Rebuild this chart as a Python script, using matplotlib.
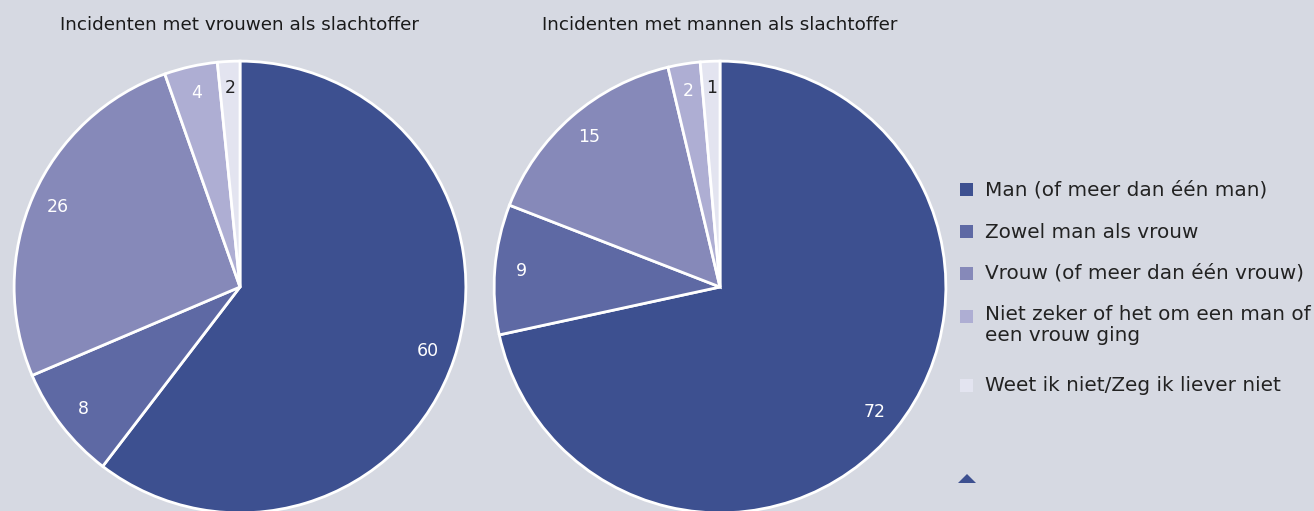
import matplotlib
matplotlib.use("Agg")
import matplotlib.pyplot as plt
from matplotlib.patches import Rectangle, Polygon

# data (shares; labels are the rounded values)
categories = ["Man (of meer dan één man)",
              "Zowel man als vrouw",
              "Vrouw (of meer dan één vrouw)",
              "Niet zeker of het om een man of\neen vrouw ging",
              "Weet ik niet/Zeg ik liever niet"]
vrouwen = [60.4, 8.2, 26.0, 3.8, 1.6]
mannen = [71.6, 9.3, 15.4, 2.3, 1.4]
titles = ["Incidenten met vrouwen als slachtoffer",
          "Incidenten met mannen als slachtoffer"]

colors = ["#3d5090", "#5e69a4", "#8689b9", "#aeaed3", "#e3e4f0"]
bg = "#d6d9e2"

W, H = 1314, 511
fig = plt.figure(figsize=(W / 100, H / 100), dpi=100, facecolor=bg)

def pie_axes(cx, cy, r):
    # cx, cy in pixels from top-left
    ax = fig.add_axes([(cx - r) / W, (H - cy - r) / H, 2 * r / W, 2 * r / H])
    return ax

for vals, title, cx in zip([vrouwen, mannen], titles, [240, 720]):
    ax = pie_axes(cx, 287, 227)
    wedges, texts = ax.pie(vals, colors=colors, startangle=90, counterclock=False,
                           radius=1, labels=[str(round(v)) for v in vals],
                           labeldistance=0.88,
                           wedgeprops=dict(edgecolor="white", linewidth=2.0))
    ax.set_xlim(-1.005, 1.005)
    ax.set_ylim(-1.005, 1.005)
    ax.set_aspect("equal")
    ax.axis("off")
    for i, t in enumerate(texts):
        t.set_ha("center")
        t.set_va("center")
        t.set_fontsize(12.5)
        t.set_color("#222222" if i == len(texts) - 1 else "white")
    fig.text(cx / W, 1 - 25 / H, title, ha="center", va="center", fontsize=13.2,
             color="#1a1a1a")

# legend
rows_y = [190, 232, 273, 316, 385]
for lab, col, y in zip(categories, colors, rows_y):
    fig.patches.append(Rectangle(((960) / W, (H - y - 6.5) / H), 13 / W, 13 / H,
                                 transform=fig.transFigure, facecolor=col,
                                 edgecolor="none"))
    if "\n" in lab:
        fig.text(985 / W, 1 - (y - 11) / H, lab, ha="left", va="top",
                 fontsize=14.4, color="#222222", linespacing=1.1)
    else:
        fig.text(985 / W, 1 - y / H, lab, ha="left", va="center",
                 fontsize=14.4, color="#222222")

# small marker at bottom right
fig.patches.append(Polygon([(958 / W, 1 - 483 / H), (976 / W, 1 - 483 / H),
                            (967 / W, 1 - 474 / H)], closed=True,
                           transform=fig.transFigure, facecolor=colors[0],
                           edgecolor="none"))

fig.savefig("out.png", dpi=100, facecolor=bg)
